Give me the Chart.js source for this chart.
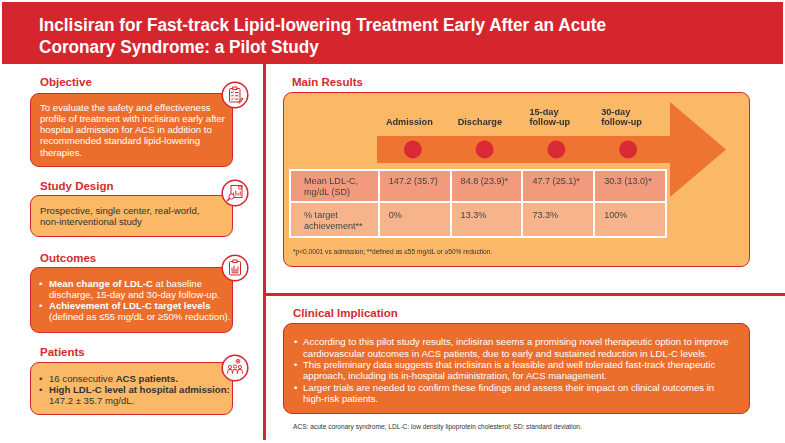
<!DOCTYPE html>
<html>
<head>
<meta charset="utf-8">
<script src="https://cdn.jsdelivr.net/npm/chart.js@4.4.1/dist/chart.umd.min.js"></script>
<style>
  body { margin: 0; background: #fff; font-family: "Liberation Sans", Arial, sans-serif; }
  #page { position: relative; width: 785px; height: 443px; overflow: hidden; }
  .abs { position: absolute; }
  .red { background: #d5262e; }
  .title { color: #fff; font-weight: bold; font-size: 18px; line-height: 22px; white-space: nowrap;
           font-family: "Liberation Sans Narrow", "Arial Narrow", "Liberation Sans", Arial, sans-serif; }
  .head { color: #d42a2f; font-weight: bold; font-size: 11.5px; line-height: 14px; white-space: nowrap; }
  .box { box-sizing: border-box; border: 1.5px solid #d5262e; border-radius: 9px; }
  .dark { background: #ec6e2d; }
  .light { background: #fbb866; }
  .txt { font-size: 9.6px; line-height: 11.3px; white-space: nowrap; }
  .w { color: #fff; }
  .k { color: #333; }
  .note { font-size: 6.6px; line-height: 8px; color: #333; white-space: nowrap; }
  .icon { width: 28px; height: 28px; }
  table { border-collapse: collapse; font-size: 9.1px; line-height: 11px; color: #444; }
  td { border: 2px solid #fff; vertical-align: top; padding: 5px 0 0 9px; box-sizing: border-box; white-space: nowrap; }
  td.lab { padding-left: 13px; }
  tr.r1 td { background: #f29a7e; height: 32px; }
  tr.r2 td { background: #f7b48a; height: 35px; padding-top: 7px; }
</style>
</head>
<body>
<div id="page">
  <!-- header -->
  <div class="abs red" style="left:2px;top:2px;width:781px;height:62px;"></div>
  <div class="abs title" id="title" style="left:39px;top:14px;transform-origin:0 0;">
    <div>Inclisiran for Fast-track Lipid-lowering Treatment Early After an Acute</div>
    <div>Coronary Syndrome: a Pilot Study</div>
  </div>

  <!-- dividers -->
  <div class="abs red" style="left:263px;top:64px;width:2.5px;height:376px;"></div>
  <div class="abs red" style="left:263px;top:293px;width:522px;height:2.5px;"></div>

  <!-- left column -->
  <div class="abs head" style="left:40px;top:75px;">Objective</div>
  <div class="abs box dark" style="left:30px;top:93px;width:203px;height:74px;"></div>
  <div class="abs txt w" style="left:40px;top:101.5px;">
    To evaluate the safety and effectiveness<br>
    profile of treatment with inclisiran early after<br>
    hospital admission for ACS in addition to<br>
    recommended standard lipid-lowering<br>
    therapies.
  </div>

  <div class="abs head" style="left:40px;top:179px;">Study Design</div>
  <div class="abs box light" style="left:30px;top:195px;width:203px;height:42px;"></div>
  <div class="abs txt k" style="left:40px;top:205px;">
    Prospective, single center, real-world,<br>
    non-interventional study
  </div>

  <div class="abs head" style="left:40px;top:251px;">Outcomes</div>
  <div class="abs box dark" style="left:30px;top:267px;width:203px;height:66px;"></div>
  <div class="abs txt w" style="left:39px;top:277.5px;">
    <div>&bull;</div><div style="height:11.3px"></div><div>&bull;</div>
  </div>
  <div class="abs txt w" style="left:49px;top:277.5px;">
    <b>Mean change of LDL-C</b> at baseline<br>
    discharge, 15-day and 30-day follow-up.<br>
    <b>Achievement of LDL-C target levels</b><br>
    (defined as ≤55 mg/dL or ≥50% reduction).
  </div>

  <div class="abs head" style="left:40px;top:345px;">Patients</div>
  <div class="abs box light" style="left:30px;top:362px;width:203px;height:53px;"></div>
  <div class="abs txt k" style="left:39px;top:372.5px;">
    <div>&bull;</div><div>&bull;</div>
  </div>
  <div class="abs txt k" style="left:49px;top:372.5px;">
    16 consecutive <b>ACS patients.</b><br>
    <b>High LDL-C level at hospital admission:</b><br>
    147.2 ± 35.7 mg/dL.
  </div>

  <!-- icons -->
  <svg class="abs icon" style="left:221px;top:81px;" viewBox="0 0 28 28">
    <circle cx="14" cy="14" r="12.8" fill="#fff" stroke="#d5262e" stroke-width="1.5"/>
    <g fill="none" stroke="#d5262e" stroke-width="1">
      <rect x="8.5" y="7.5" width="10.5" height="13.5" rx="1"/>
      <rect x="11.8" y="6" width="4" height="2.6" fill="#fff"/>
      <path d="M10 11l1 1 1.6-1.7M13.8 11.5h3.6M10 14.3l1 1 1.6-1.7M13.8 14.8h3.6M10 17.6l1 1 1.6-1.7M13.8 18.1h3.6"/>
      <path d="M17.5 21.5l3.5-4.5 1 .8-3.5 4.5z"/>
    </g>
  </svg>
  <svg class="abs icon" style="left:221px;top:179px;" viewBox="0 0 28 28">
    <circle cx="14" cy="14" r="12.8" fill="#fff" stroke="#d5262e" stroke-width="1.5"/>
    <g fill="none" stroke="#d5262e" stroke-width="1">
      <rect x="10" y="6.5" width="11" height="12"/>
      <circle cx="19" cy="8.5" r="1.6"/>
      <path d="M12.5 16.5v-3M14.8 16.5v-5M17.1 16.5v-2.5M19.2 16.5v-4"/>
      <circle cx="10.5" cy="17.5" r="2.6" fill="#fff"/>
      <path d="M8.6 19.4l-2.6 2.6" stroke-width="1.6"/>
    </g>
  </svg>
  <svg class="abs icon" style="left:221px;top:254px;" viewBox="0 0 28 28">
    <circle cx="14" cy="14" r="12.8" fill="#fff" stroke="#d5262e" stroke-width="1.5"/>
    <g fill="none" stroke="#d5262e" stroke-width="1">
      <rect x="8.5" y="7.5" width="11" height="13.5" rx="1"/>
      <rect x="12" y="6" width="4" height="2.6" fill="#fff"/>
      <path d="M11 16.5v-3M13 16.5v-5M15 16.5v-2M17 16.5v-4M10.5 17h7M10.5 18.8h7"/>
    </g>
  </svg>
  <svg class="abs icon" style="left:221px;top:354px;" viewBox="0 0 28 28">
    <circle cx="14" cy="14" r="12.8" fill="#fff" stroke="#d5262e" stroke-width="1.5"/>
    <g fill="none" stroke="#d5262e" stroke-width="0.9">
      <circle cx="17" cy="7.3" r="1.9"/>
      <path d="M17 6.3v2M16 7.3h2"/>
      <circle cx="9" cy="13" r="1.6"/><path d="M6.3 19.5l1-4h3.4l1 4"/>
      <circle cx="14" cy="12.5" r="1.6"/><path d="M11.3 19.5l1-4h3.4l1 4"/>
      <circle cx="19" cy="13" r="1.6"/><path d="M16.3 19.5l1-4h3.4l1 4"/>
    </g>
  </svg>

  <!-- main results -->
  <div class="abs head" style="left:292px;top:75px;">Main Results</div>
  <div class="abs box light" style="left:283px;top:92px;width:467px;height:175px;"></div>
  <canvas class="abs" id="timeline" width="467" height="175" style="left:283px;top:92px;"></canvas>
  <table class="abs" id="results" style="left:289px;top:169px;width:378px;"></table>
  <div class="abs note" style="left:293px;top:248px;">*p&lt;0.0001 vs admission; **defined as ≤55 mg/dL or ≥50% reduction.</div>

  <!-- clinical implication -->
  <div class="abs head" style="left:293px;top:306px;">Clinical Implication</div>
  <div class="abs box dark" style="left:283px;top:323px;width:467px;height:91px;"></div>
  <div class="abs txt w" style="left:294px;top:336.4px;">
    <div>&bull;</div><div style="height:11.3px"></div><div>&bull;</div><div style="height:11.3px"></div><div>&bull;</div>
  </div>
  <div class="abs txt w" style="left:303px;top:336.4px;">
    According to this pilot study results, inclisiran seems a promising novel therapeutic option to improve<br>
    cardiovascular outcomes in ACS patients, due to early and sustained reduction in LDL-C levels.<br>
    This preliminary data suggests that inclisiran is a feasible and well tolerated fast-track therapeutic<br>
    approach, including its in-hospital administration, for ACS management.<br>
    Larger trials are needed to confirm these findings and assess their impact on clinical outcomes in<br>
    high-risk patients.
  </div>
  <div class="abs note" style="left:293px;top:423px;">ACS: acute coronary syndrome; LDL-C: low density lipoprotein cholesterol; SD: standard deviation.</div>
</div>

<script>
  // time points along the arrow
  const tickLabels = ['Admission', 'Discharge', ['15-day', 'follow-up'], ['30-day', 'follow-up']];
  // mean LDL-C, mg/dL, and its SD
  const ldlMean = [147.2, 84.8, 47.7, 30.3];
  const ldlSD = [35.7, 23.9, 25.1, 13.0];
  // * p<0.0001 vs admission
  const significant = [false, true, true, true];
  // % patients reaching target
  const targetPct = [0, 13.3, 73.3, 100];
  // dots all sit on the arrow
  const dotLevel = [0, 0, 0, 0];

  // fit the title to the width it has in the picture
  const title = document.getElementById('title');
  const firstLine = title.firstElementChild;
  title.style.transform = 'scaleX(' + (567 / firstLine.getBoundingClientRect().width) + ')';

  // results table
  const rows = [
    { label: 'Mean LDL-C,<br>mg/dL (SD)', cells: ldlMean.map((m, i) => m.toFixed(1) + ' (' + ldlSD[i].toFixed(1) + ')' + (significant[i] ? '*' : '')) },
    { label: '% target<br>achievement**', cells: targetPct.map((p) => p + '%') }
  ];
  document.getElementById('results').innerHTML = rows.map((r, i) =>
    '<tr class="r' + (i + 1) + '"><td class="lab" style="width:89px">' + r.label + '</td>' +
    r.cells.map((c) => '<td style="width:72px">' + c + '</td>').join('') + '</tr>').join('');

  const arrowPlugin = {
    id: 'arrow',
    beforeDatasetsDraw(chart) {
      const { ctx, chartArea: a } = chart;
      const mid = (a.top + a.bottom) / 2;
      const headX = a.right + 6;
      const tipX = a.right + 62;
      const half = 47.5;
      ctx.save();
      ctx.fillStyle = '#ee7431';
      ctx.beginPath();
      ctx.moveTo(a.left, a.top);
      ctx.lineTo(headX, a.top);
      ctx.lineTo(headX, mid - half);
      ctx.lineTo(tipX, mid);
      ctx.lineTo(headX, mid + half);
      ctx.lineTo(headX, a.bottom);
      ctx.lineTo(a.left, a.bottom);
      ctx.closePath();
      ctx.fill();
      ctx.restore();
    }
  };

  Chart.defaults.font.family = '"Liberation Sans", Arial, sans-serif';

  new Chart(document.getElementById('timeline').getContext('2d'), {
    type: 'line',
    data: {
      labels: tickLabels,
      datasets: [{
        data: dotLevel,
        showLine: false,
        pointRadius: 9,
        pointHoverRadius: 9,
        pointBackgroundColor: '#d92a35',
        pointBorderWidth: 0
      }]
    },
    options: {
      responsive: false,
      animation: false,
      events: [],
      layout: { padding: { left: 94, right: 86, top: 17, bottom: 104 } },
      plugins: { legend: { display: false }, tooltip: { enabled: false } },
      scales: {
        x: {
          position: 'top',
          offset: true,
          grid: { display: false, drawTicks: false },
          border: { display: false },
          ticks: {
            padding: 8,
            align: 'start',
            labelOffset: -27,
            maxRotation: 0,
            autoSkip: false,
            color: '#333',
            font: { size: 9.2, weight: 'bold', lineHeight: 1.16 }
          }
        },
        y: { display: false, min: -1, max: 1 }
      }
    },
    plugins: [arrowPlugin]
  });
</script>
</body>
</html>
